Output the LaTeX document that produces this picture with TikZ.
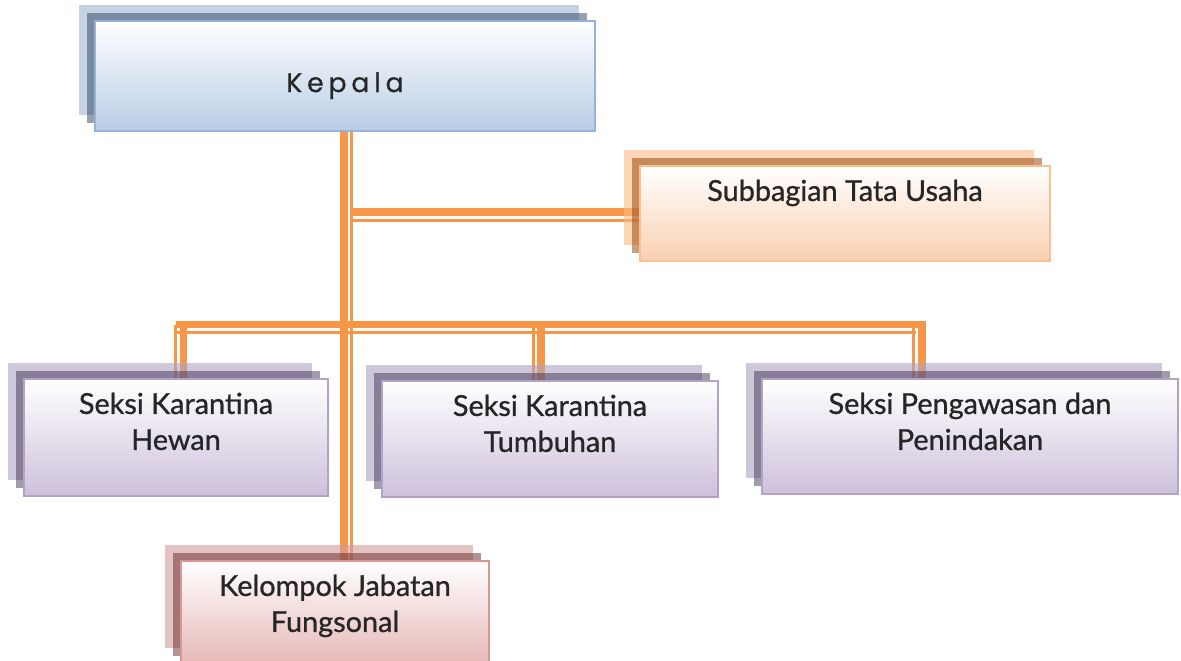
\documentclass[tikz,border=0pt]{standalone}
\usepackage{fontspec}
\setmainfont{Lato}[FakeBold=0.9]
\newfontfamily\kepalafont{Poppins}[LetterSpace=18, FakeBold=0.6]
\usepackage{xcolor}
\definecolor{orgline}{RGB}{247, 150, 70}
\definecolor{orgtext}{RGB}{38, 38, 38}
\definecolor{orgblue}{RGB}{185, 205, 229}
\definecolor{orgblueedge}{RGB}{149, 179, 215}
\definecolor{orgblueback}{RGB}{158, 182, 210}
\definecolor{orgbluedark}{RGB}{47, 67, 98}
\definecolor{orgpeach}{RGB}{249, 208, 176}
\definecolor{orgpeachedge}{RGB}{250, 192, 143}
\definecolor{orgpeachback}{RGB}{250, 185, 132}
\definecolor{orgpeachdark}{RGB}{148, 65, 0}
\definecolor{orglilac}{RGB}{205, 193, 219}
\definecolor{orglilacedge}{RGB}{179, 162, 199}
\definecolor{orglilacback}{RGB}{175, 162, 193}
\definecolor{orglilacdark}{RGB}{69, 55, 86}
\definecolor{orgrose}{RGB}{230, 184, 183}
\definecolor{orgroseedge}{RGB}{217, 150, 148}
\definecolor{orgroseback}{RGB}{208, 155, 157}
\definecolor{orgrosedark}{RGB}{103, 41, 42}
\usetikzlibrary{positioning, shadows, backgrounds}

\begin{document}
\begin{tikzpicture}[x=0.025cm, y=-0.025cm,
    unit/.style={draw=#1edge, line width=0.05cm, inner sep=0pt,
        top color=white, middle color=#1!40, bottom color=#1,
        general shadow={fill=#1back, fill opacity=0.6, shadow xshift=-0.4cm, shadow yshift=0.4cm},
        general shadow={fill=#1dark, fill opacity=0.5, shadow xshift=-0.2cm, shadow yshift=0.2cm}},
    unittext/.style={inner sep=0pt, align=center, text=orgtext,
        font=\fontsize{20.5}{25.6}\selectfont},
    linkthick/.style={draw=orgline, line width=0.19cm},
    linkthin/.style={draw=orgline, line width=0.07cm}]

\useasboundingbox (0, 0) rectangle (1181, 660);

% === Kotak unit ===
\node[unit=orgblue, minimum width=12.5cm, minimum height=2.75cm] (kepala) at (345, 76) {};
\node[unit=orgpeach, minimum width=10.25cm, minimum height=2.375cm] (subbag) at (845, 213.5) {};
\node[unit=orglilac, minimum width=7.6cm, minimum height=2.925cm] (hewan) at (176, 437.5) {};
\node[unit=orglilac, minimum width=8.4cm, minimum height=2.9cm] (tumbuhan) at (550, 439) {};
\node[unit=orglilac, minimum width=10.4cm, minimum height=2.875cm] (awas) at (970, 436.5) {};
\node[unit=orgrose, minimum width=7.7cm, minimum height=2.575cm] (kelompok) at (335, 612.5) {};

% === Teks ===
\node[inner sep=0pt, text=orgtext, font=\kepalafont\fontsize{19}{22}\selectfont,
    below=1.3cm of kepala.north] (kepalatext) {Kepala};
\node[unittext, below=0.36cm of subbag.north] (subbagtext) {Subbagian Tata Usaha};
\node[unittext, below=0.36cm of hewan.north] (hewantext) {Seksi Karantina\\Hewan};
\node[unittext, below=0.36cm of tumbuhan.north] (tumbuhantext) {Seksi Karantina\\Tumbuhan};
\node[unittext, below=0.36cm of awas.north] (awastext) {Seksi Pengawasan dan\\Penindakan};
\node[unittext, below=0.36cm of kelompok.north] (kelompoktext) {Kelompok Jabatan\\Fungsonal};

% === Garis penghubung (di belakang kotak) ===
\begin{scope}[on background layer]
    \coordinate (trunkfoot) at (kepala.south |- kelompok.north);
    \coordinate (subbagjoin) at (kepala.south |- subbag.west);
    \coordinate (busleft) at (176, 324.5);
    \coordinate (busright) at (925.5, 324.5);
    \coordinate (hewanjoin) at (183.5, 324.5);
    \coordinate (tumbuhanjoin) at (540.7, 324.5);
    \coordinate (awasjoin) at (921.7, 324.5);
    \coordinate (hewanfoot) at (hewanjoin |- hewan.north);
    \coordinate (tumbuhanfoot) at (tumbuhanjoin |- tumbuhan.north);
    \coordinate (awasfoot) at (awasjoin |- awas.north);

    % Batang utama
    \draw[linkthick] ([xshift=-0.025cm]kepala.south) -- ([xshift=-0.025cm]trunkfoot);
    \draw[linkthin] ([xshift=0.16cm]kepala.south) -- ([xshift=0.16cm]trunkfoot);

    % Cabang ke Subbagian
    \draw[linkthick] ([shift={(0.12cm, 0.04cm)}]subbagjoin) -- ([yshift=0.04cm]subbag.west);
    \draw[linkthin] ([shift={(0.15cm, -0.175cm)}]subbagjoin) -- ([yshift=-0.175cm]subbag.west);

    % Garis seksi
    \draw[linkthick] (busleft) -- (busright);
    \draw[linkthin] ([yshift=-0.19cm]busleft) -- ([shift={(-0.24cm, -0.19cm)}]busright);

    % Turun ke masing-masing seksi
    \draw[linkthick] (hewanjoin) -- (hewanfoot);
    \draw[linkthin] ([xshift=-0.2cm]hewanjoin) -- ([xshift=-0.2cm]hewanfoot);
    \draw[linkthick] (tumbuhanjoin) -- (tumbuhanfoot);
    \draw[linkthin] ([xshift=-0.18cm]tumbuhanjoin) -- ([xshift=-0.18cm]tumbuhanfoot);
    \draw[linkthick] (awasjoin) -- (awasfoot);
    \draw[linkthin] ([xshift=-0.2cm]awasjoin) -- ([xshift=-0.2cm]awasfoot);
\end{scope}

\end{tikzpicture}
\end{document}
